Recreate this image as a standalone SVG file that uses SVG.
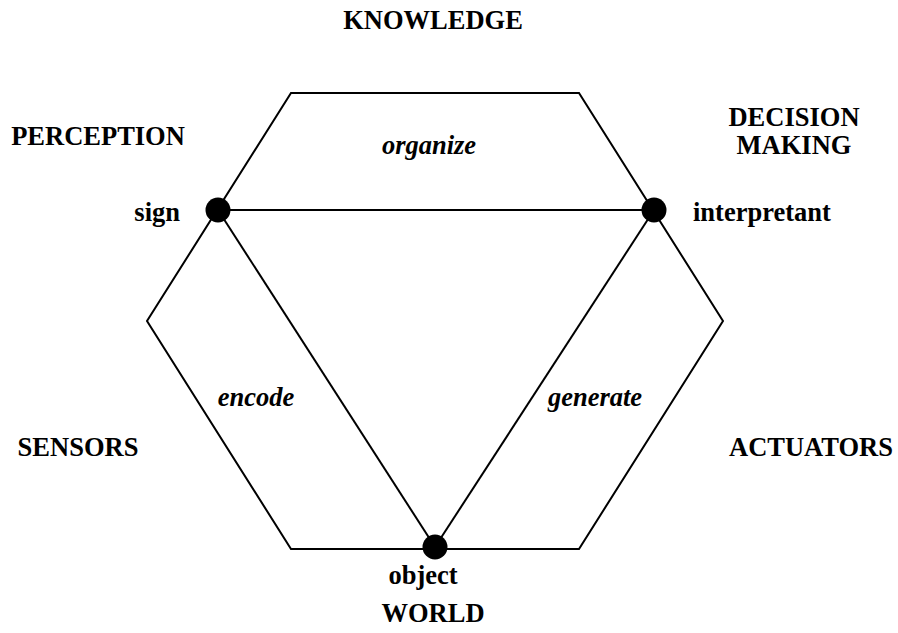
<svg xmlns="http://www.w3.org/2000/svg" width="898" height="633" viewBox="0 0 898 633">
<style>
.t{font-family:"Liberation Serif","Times New Roman",serif;font-weight:bold;font-size:26.5px;fill:#000}
.i{font-style:italic}
.ln{stroke:#000;stroke-width:2;fill:none}
.dot{fill:#000}
</style>
<rect width="898" height="633" fill="#fff"/>
<g id="hexagon">
<polygon class="ln" points="291,93 579,93 723,321 579,549 291,549 147,321"/>
</g>
<g id="connectors">
<line class="ln" x1="218" y1="210" x2="654" y2="210"/>
<line class="ln" x1="218" y1="210" x2="435" y2="547"/>
<line class="ln" x1="654" y1="210" x2="435" y2="547"/>
</g>
<g id="sign">
<circle class="dot" cx="218" cy="210" r="12.5"/>
<text class="t" x="180" y="221" text-anchor="end">sign</text>
</g>
<g id="interpretant">
<circle class="dot" cx="654" cy="210" r="12.5"/>
<text class="t" x="693" y="221">interpretant</text>
</g>
<g id="object">
<circle class="dot" cx="435" cy="547" r="12.5"/>
<text class="t" x="423" y="584" text-anchor="middle">object</text>
</g>
<g id="labels">
<text class="t" x="433" y="29" text-anchor="middle">KNOWLEDGE</text>
<text class="t" x="98" y="145" text-anchor="middle">PERCEPTION</text>
<text class="t" x="794" y="126" text-anchor="middle">DECISION</text>
<text class="t" x="794" y="154" text-anchor="middle">MAKING</text>
<text class="t" x="78" y="456" text-anchor="middle">SENSORS</text>
<text class="t" x="811" y="456" text-anchor="middle">ACTUATORS</text>
<text class="t" x="433" y="622" text-anchor="middle">WORLD</text>
<text class="t i" x="429" y="154" text-anchor="middle">organize</text>
<text class="t i" x="256" y="406" text-anchor="middle">encode</text>
<text class="t i" x="595" y="406" text-anchor="middle">generate</text>
</g>
</svg>
